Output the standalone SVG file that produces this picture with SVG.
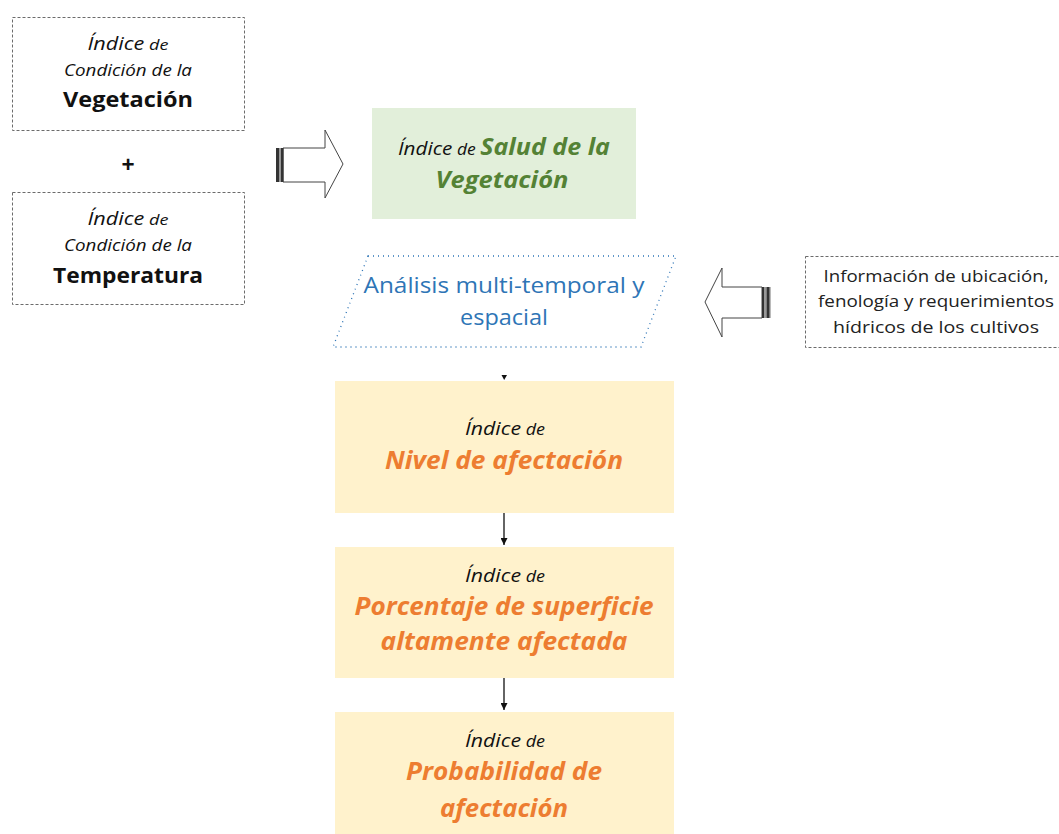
<svg xmlns="http://www.w3.org/2000/svg" width="1059" height="834" viewBox="0 0 1059 834">
<style>
.dash{fill:#fff;stroke:#6b6b6b;stroke-width:1;stroke-dasharray:3,2}
.it{font-family:"Open Sans","Liberation Sans",sans-serif;font-style:italic;fill:#111}
.b{font-family:"Open Sans","Liberation Sans",sans-serif;font-weight:bold;fill:#111}
.or{font-family:"Open Sans","Liberation Sans",sans-serif;font-weight:bold;font-style:italic;fill:#ed7d31}
.gr{font-family:"Open Sans","Liberation Sans",sans-serif;font-weight:bold;font-style:italic;fill:#548235}
.bl{font-family:"Open Sans","Liberation Sans",sans-serif;fill:#2e75b6}
.inf{font-family:"Open Sans","Liberation Sans",sans-serif;fill:#222;font-size:16px}
.orbox{fill:#fff2cc}
.conn{stroke:#111;stroke-width:1.3;fill:none}
.blk{fill:#fff;stroke:#444;stroke-width:1}
</style>
<defs>
<marker id="ah" viewBox="0 0 10 10" refX="10" refY="5" markerWidth="7" markerHeight="7" markerUnits="userSpaceOnUse" orient="auto"><path d="M0,0 L10,5 L0,10 Z" fill="#111"/></marker>
</defs>

<g id="node-icv">
<rect class="dash" x="12.5" y="17.5" width="232" height="113"/>
<text x="128" y="50" text-anchor="middle" class="it" textLength="81" lengthAdjust="spacingAndGlyphs"><tspan font-size="18">Índice</tspan><tspan font-size="15"> de</tspan></text>
<text x="128" y="76" text-anchor="middle" class="it" font-size="17" textLength="128" lengthAdjust="spacingAndGlyphs">Condición de la</text>
<text x="128" y="107" text-anchor="middle" class="b" font-size="22" textLength="130" lengthAdjust="spacingAndGlyphs">Vegetación</text>
</g>

<g id="plus"><text x="128" y="173" text-anchor="middle" class="b" font-size="23">+</text></g>

<g id="node-ict">
<rect class="dash" x="12.5" y="192.5" width="232" height="112"/>
<text x="128" y="225" text-anchor="middle" class="it" textLength="81" lengthAdjust="spacingAndGlyphs"><tspan font-size="18">Índice</tspan><tspan font-size="15"> de</tspan></text>
<text x="128" y="251" text-anchor="middle" class="it" font-size="17" textLength="128" lengthAdjust="spacingAndGlyphs">Condición de la</text>
<text x="128" y="283" text-anchor="middle" class="b" font-size="22" textLength="150" lengthAdjust="spacingAndGlyphs">Temperatura</text>
</g>

<g id="node-isv">
<rect x="372" y="108" width="264" height="111" fill="#e2efda"/>
<text x="504" y="155" text-anchor="middle" textLength="212" lengthAdjust="spacingAndGlyphs"><tspan class="it" font-size="19">Índice</tspan><tspan class="it" font-size="16"> de </tspan><tspan class="gr" font-size="23">Salud de la</tspan></text>
<text x="502" y="188" text-anchor="middle" class="gr" font-size="23" textLength="133" lengthAdjust="spacingAndGlyphs">Vegetación</text>
</g>

<g id="node-analisis">
<path d="M368,256 L676,256 L641,347 L333,347 Z" fill="none" stroke="#2e75b6" stroke-width="1.3" stroke-dasharray="1,4"/>
<text x="504" y="293" text-anchor="middle" class="bl" font-size="21" textLength="281" lengthAdjust="spacingAndGlyphs">Análisis multi-temporal y</text>
<text x="504" y="325" text-anchor="middle" class="bl" font-size="21" textLength="88" lengthAdjust="spacingAndGlyphs">espacial</text>
</g>

<g id="node-info">
<rect class="dash" x="805.5" y="256.5" width="260" height="91"/>
<text x="936" y="282" text-anchor="middle" class="inf" textLength="225" lengthAdjust="spacingAndGlyphs">Información de ubicación,</text>
<text x="936" y="307" text-anchor="middle" class="inf" textLength="236" lengthAdjust="spacingAndGlyphs">fenología y requerimientos</text>
<text x="936" y="333" text-anchor="middle" class="inf" textLength="206" lengthAdjust="spacingAndGlyphs">hídricos de los cultivos</text>
</g>

<g id="node-nivel">
<rect class="orbox" x="335" y="381" width="339" height="132"/>
<text x="505" y="435" text-anchor="middle" class="it" textLength="80" lengthAdjust="spacingAndGlyphs"><tspan font-size="19">Índice</tspan><tspan font-size="16"> de</tspan></text>
<text x="504" y="469" text-anchor="middle" class="or" font-size="25" textLength="238" lengthAdjust="spacingAndGlyphs">Nivel de afectación</text>
</g>

<g id="node-porcentaje">
<rect class="orbox" x="335" y="547" width="339" height="131"/>
<text x="505" y="582" text-anchor="middle" class="it" textLength="80" lengthAdjust="spacingAndGlyphs"><tspan font-size="19">Índice</tspan><tspan font-size="16"> de</tspan></text>
<text x="504" y="615" text-anchor="middle" class="or" font-size="25" textLength="299" lengthAdjust="spacingAndGlyphs">Porcentaje de superficie</text>
<text x="504" y="650" text-anchor="middle" class="or" font-size="25" textLength="247" lengthAdjust="spacingAndGlyphs">altamente afectada</text>
</g>

<g id="node-probabilidad">
<rect class="orbox" x="335" y="712" width="339" height="122"/>
<text x="505" y="747" text-anchor="middle" class="it" textLength="80" lengthAdjust="spacingAndGlyphs"><tspan font-size="19">Índice</tspan><tspan font-size="16"> de</tspan></text>
<text x="504" y="780" text-anchor="middle" class="or" font-size="25" textLength="196" lengthAdjust="spacingAndGlyphs">Probabilidad de</text>
<text x="504" y="817" text-anchor="middle" class="or" font-size="25" textLength="128" lengthAdjust="spacingAndGlyphs">afectación</text>
</g>

<g id="connectors">
<g id="arrow-right">
<path class="blk" d="M283,148 L325,148 L325,130 L343,164 L325,198 L325,182 L283,182 Z"/>
<rect x="276" y="148" width="3" height="34" fill="#333"/>
<rect x="279" y="148" width="2" height="34" fill="#999"/>
<rect x="281" y="148" width="2.5" height="34" fill="#333"/>
</g>
<g id="arrow-left">
<path class="blk" d="M762,287 L722,287 L722,268 L705,302 L722,337 L722,318 L762,318 Z"/>
<rect x="762" y="287" width="2.5" height="31" fill="#333"/>
<rect x="764.5" y="287" width="2" height="31" fill="#999"/>
<rect x="766.5" y="287" width="2.5" height="31" fill="#333"/>
<rect x="769" y="287" width="1.5" height="31" fill="#777"/>
</g>
<path d="M501.5,375 L507,375 L504.2,380 Z" fill="#111"/>
<line class="conn" x1="504" y1="513" x2="504" y2="545" marker-end="url(#ah)"/>
<line class="conn" x1="504" y1="678" x2="504" y2="710" marker-end="url(#ah)"/>
</g>
</svg>
